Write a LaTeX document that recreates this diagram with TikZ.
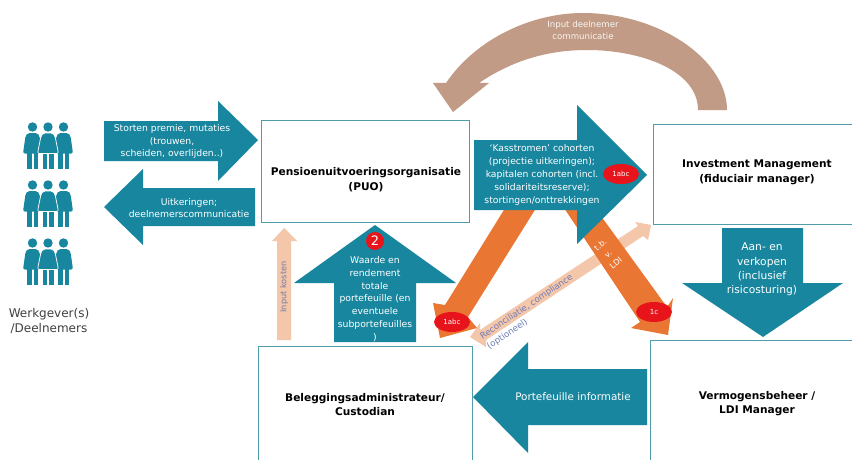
\documentclass[tikz,border=0pt]{standalone}
\usepackage{fontspec}
\usetikzlibrary{shapes.geometric}
\setmainfont{DejaVu Sans}
\definecolor{teal1}{HTML}{17869E}
\definecolor{org}{HTML}{EA7634}
\definecolor{lorg}{HTML}{F4C6AA}
\definecolor{brn}{HTML}{C19B85}
\definecolor{boxc}{HTML}{4F9CAA}
\definecolor{redc}{HTML}{E8141C}
\definecolor{blu}{HTML}{6E7BB4}
\tikzset{
  block/.style={fill=teal1,draw=none},
  orangeblock/.style={fill=org,draw=none},
  lightblock/.style={fill=lorg,draw=none},
  orgbox/.style={draw=boxc,line width=1pt,fill=white},
  boxtxt/.style={text=black,align=center,font=\fontsize{10.6}{14.5}\bfseries\selectfont,inner sep=0pt},
  wtxt/.style={text=white,align=center,font=\fontsize{9.25}{12.8}\selectfont,inner sep=0pt},
  wbig/.style={text=white,align=center,font=\fontsize{10.7}{14.3}\selectfont,inner sep=0pt},
  badge/.style={fill=redc,draw=none,ellipse,minimum width=36pt,minimum height=20pt,inner sep=0pt,text=white,font=\fontsize{7}{8}\selectfont},
  person/.pic={
    \fill[teal1] (0,0) circle (4.7);
    \fill[teal1] (-5.5,24) rectangle (-1,42);
    \fill[teal1] (1,24) rectangle (5.5,42);
    \fill[teal1,rounded corners=2pt] (-5,6) -- (5,6) -- (7,9) -- (9.5,26.5) -- (-9.5,26.5) -- (-7,9) -- cycle;
  },
  personfront/.pic={
    \fill[teal1] (0,0) circle (4.7);
    \fill[teal1] (-5.5,24) rectangle (-1,42);
    \fill[teal1] (1,24) rectangle (5.5,42);
    \fill[teal1,draw=white,line width=.7pt,rounded corners=2pt] (-5,6) -- (5,6) -- (7,9) -- (10.5,26.5) -- (-10.5,26.5) -- (-7,9) -- cycle;
  },
  crowd/.pic={
    \pic at (-15.5,0) {person};
    \pic at (15.5,0) {person};
    \pic at (0,0) {personfront};
  }
}
\begin{document}
\begin{tikzpicture}[x=1pt,y=-1pt]
\useasboundingbox (0,0) rectangle (852,460);
\fill[white] (0,0) rectangle (852,460);
% brown curved arrow
\fill[brn] (727,110) .. controls (727,60) and (660,13) .. (583,13) .. controls (530,13) and (475,40) .. (446,83)
  -- (433,83) -- (453,112) -- (489,83) -- (479,83)
  .. controls (510,62) and (545,50) .. (587,50) .. controls (640,50) and (698,70) .. (698,110) -- cycle;
\node[text=white!92!brn,align=center,inner sep=0pt,font=\fontsize{8.6}{12}\selectfont] (inputcomm) at (583,30) {Input deelnemer\\communicatie};
% boxes
\node[orgbox,minimum width=208pt,minimum height=102pt,inner sep=0pt] (puo) at (365,171) {};
\node[orgbox,anchor=north west,minimum width=210pt,minimum height=100pt,inner sep=0pt] (im) at (653,124) {};
\node[orgbox,anchor=north west,minimum width=214pt,minimum height=125pt,inner sep=0pt] (bel) at (258,346) {};
\node[orgbox,anchor=north west,minimum width=212pt,minimum height=130pt,inner sep=0pt] (verm) at (650,340) {};
\node[boxtxt] (puot) at (366,179.5) {Pensioenuitvoeringsorganisatie\\(PUO)};
\node[boxtxt] (imt) at (757,172.5) {Investment Management\\(fiduciair manager)};
\node[boxtxt] (belt) at (365,404.5) {Beleggingsadministrateur/\\Custodian};
\node[boxtxt] (vermt) at (757,403.5) {Vermogensbeheer /\\LDI Manager};
% light double arrow and orange arrows
\fill[lightblock] (651,225) -- (648,240) -- (643,236) -- (486,340) -- (486,347) -- (470,337) -- (480,323) -- (480,330) -- (638,226) -- (635,222) -- cycle;
\fill[orangeblock] (507,205) -- (445,305) -- (433,303) -- (440,338) -- (477,328) -- (468,317) -- (538,205) -- cycle;
\fill[orangeblock] (562,205) -- (640,322) -- (631,328) -- (668,335) -- (673,298) -- (667,307) -- (593,205) -- cycle;
% teal block arrows
\fill[block] (104,121) -- (218,121) -- (218,101) -- (258,140) -- (218,181) -- (218,161) -- (104,161) -- cycle;
\fill[block] (255,188) -- (143,188) -- (143,169) -- (104,207) -- (143,245) -- (143,226) -- (255,226) -- cycle;
\fill[block] (474,140) -- (577,140) -- (577,105) -- (647,175) -- (577,244) -- (577,210) -- (474,210) -- cycle;
\fill[block] (375,225) -- (456,283) -- (416,283) -- (416,342) -- (334,342) -- (334,283) -- (294,283) -- cycle;
\fill[block] (722,228) -- (803,228) -- (803,283) -- (843,283) -- (763,337) -- (682,283) -- (722,283) -- cycle;
\fill[block] (647,369) -- (528,369) -- (528,342) -- (473,397) -- (528,453) -- (528,425) -- (647,425) -- cycle;
% input kosten
\fill[lightblock] (277,340) -- (277,241) -- (272,241) -- (284,228) -- (297,241) -- (291,241) -- (291,340) -- cycle;
\node[rotate=90,text=blu!70!gray,inner sep=0pt,font=\fontsize{8.2}{9}\selectfont] (kost) at (284,287) {Input kosten};
% teal texts
\node[wtxt] (storten) at (172,141.5) {Storten premie, mutaties\\(trouwen,\\scheiden, overlijden..)};
\node[wtxt] (uitk) at (189,208) {Uitkeringen;\\deelnemerscommunicatie};
\node[wtxt] (kass) at (542,175) {`Kasstromen' cohorten\\(projectie uitkeringen);\\kapitalen cohorten (incl.\\solidariteitsreserve);\\stortingen/onttrekkingen};
\node[wtxt] (waarde) at (375,299) {Waarde en\\rendement\\totale\\portefeuille (en\\eventuele\\subportefeuilles\\)};
\node[wbig] (aan) at (762,269.5) {Aan- en\\verkopen\\(inclusief\\risicosturing)};
\node[wbig,font=\fontsize{10.4}{14}\selectfont] (port) at (573,397) {Portefeuille informatie};
\node[text=white,align=center,rotate=40,inner sep=0pt,font=\fontsize{8}{12}\selectfont] (tbv) at (608,254) {t.b.\\v.\\LDI};
\node[text=blu,align=left,rotate=34,inner sep=0pt,font=\fontsize{8.6}{12}\selectfont] (rec) at (530,312) {Reconciliatie, compliance\\(optioneel)};
% badges
\node[badge] (b1) at (621,174) {1abc};
\node[badge] (b2) at (452,322) {1abc};
\node[badge] (b3) at (654,312) {1c};
\node[fill=redc,circle,minimum size=18pt,inner sep=0pt,text=white,font=\fontsize{13}{15}\selectfont] (b4) at (375,241) {2};
% people
\pic at (48,127) {crowd};
\pic at (48,185) {crowd};
\pic at (48,243) {crowd};
\node[text=black!75,align=center,inner sep=0pt,font=\fontsize{12}{14.5}\selectfont] (wg) at (49,321) {Werkgever(s)\\/Deelnemers};
\end{tikzpicture}
\end{document}
